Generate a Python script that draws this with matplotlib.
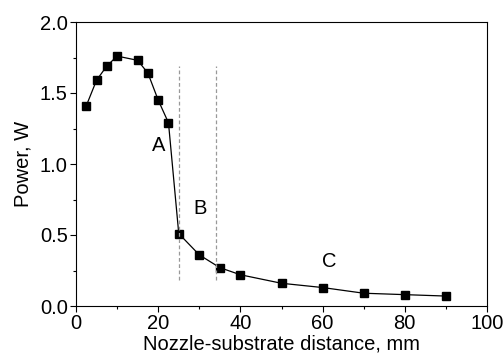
import matplotlib
matplotlib.use("Agg")
import matplotlib.pyplot as plt
from matplotlib.ticker import MultipleLocator

plt.rcParams['font.family'] = ['Liberation Sans', 'DejaVu Sans']

distance = [2.5, 5, 7.5, 10, 15, 17.5, 20, 22.5, 25, 30, 35, 40, 50, 60, 70, 80, 90]
power = [1.41, 1.59, 1.69, 1.76, 1.73, 1.64, 1.45, 1.29, 0.51, 0.36, 0.27, 0.22,
         0.16, 0.13, 0.09, 0.08, 0.07]

zone_bounds = [25, 34]
zone_labels = ['A', 'B', 'C']
zone_label_x = [20.2, 30.2, 61.6]
zone_label_y = [1.13, 0.69, 0.31]

fig = plt.figure(figsize=(5.03, 3.61), dpi=100)
ax = fig.add_axes([76 / 503, 55 / 361, 411 / 503, 284 / 361])

ax.plot(distance, power, color='black', lw=0.9, marker='s', markersize=6)

for xb in zone_bounds:
    ax.plot([xb, xb], [0.18, 1.69], color='#999999', lw=0.9, ls=(0, (3, 2)))

for lab, lx, ly in zip(zone_labels, zone_label_x, zone_label_y):
    ax.text(lx, ly, lab, fontsize=14.5, ha='center', va='center')

ax.set_xlim(0, 100)
ax.set_ylim(0, 2.0)
ax.xaxis.set_major_locator(MultipleLocator(20))
ax.xaxis.set_minor_locator(MultipleLocator(10))
ax.yaxis.set_major_locator(MultipleLocator(0.5))
ax.yaxis.set_minor_locator(MultipleLocator(0.25))
ax.tick_params(which='both', direction='out', labelsize=14.5, top=False, right=False,
               width=0.8, pad=2)
ax.tick_params(which='major', length=4)
ax.tick_params(which='minor', length=2.5)
ax.set_xlabel('Nozzle-substrate distance, mm', fontsize=14.5, labelpad=1)
ax.set_ylabel('Power, W', fontsize=14.5, labelpad=5)

fig.savefig('out.png', dpi=100)
